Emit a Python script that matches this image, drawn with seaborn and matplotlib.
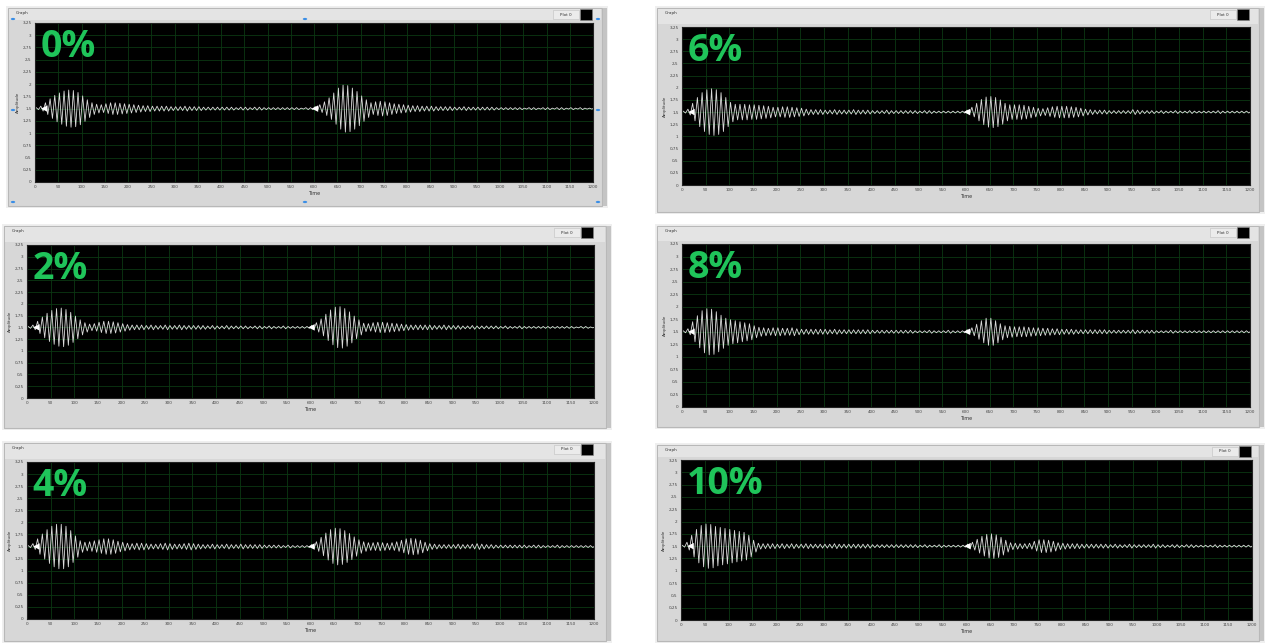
import numpy as np
import pandas as pd
import matplotlib
matplotlib.use('Agg')
import matplotlib.pyplot as plt
import seaborn as sns
from matplotlib.patches import Rectangle, Circle

sns.set_style('white')
plt.rcParams['font.family'] = ['DejaVu Sans']

# Canvas size in pixels
W, H = 1266, 644

# ---- Data ----
labels = ['0%', '2%', '4%', '6%', '8%', '10%']
baseline = 1.5
cycle_len = 10          # time units per oscillation
pulse_times = [20, 602]  # bright excitation / echo start blobs

y_ticks = [0, 0.25, 0.5, 0.75, 1, 1.25, 1.5, 1.75, 2, 2.25, 2.5, 2.75, 3, 3.25]
y_tick_labels = ['0', '0,25', '0,5', '0,75', '1', '1,25', '1,5', '1,75',
                 '2', '2,25', '2,5', '2,75', '3', '3,25']
x_ticks = list(range(0, 1201, 50))

# peak amplitude (from baseline) of each 10-unit cycle, 0..1200
amp_0 = [0.02, 0.05, 0.12, 0.20, 0.27, 0.32, 0.36, 0.38, 0.37, 0.33,
         0.26, 0.18, 0.12, 0.09, 0.08, 0.10, 0.12, 0.12, 0.11, 0.10,
         0.09, 0.08, 0.07, 0.06, 0.06, 0.05, 0.05, 0.05, 0.05, 0.04,
         0.04, 0.04, 0.05, 0.04, 0.04, 0.04, 0.03, 0.03, 0.03, 0.03,
         0.03, 0.03, 0.03, 0.02, 0.03, 0.03, 0.02, 0.03, 0.03, 0.02,
         0.02, 0.02, 0.02, 0.02, 0.02, 0.02, 0.02, 0.01, 0.02, 0.02,
         0.04, 0.08, 0.14, 0.22, 0.32, 0.42, 0.48, 0.47, 0.42, 0.35,
         0.26, 0.18, 0.12, 0.14, 0.15, 0.14, 0.12, 0.10, 0.09, 0.08,
         0.07, 0.06, 0.06, 0.05, 0.05, 0.05, 0.04, 0.04, 0.04, 0.04,
         0.03, 0.03, 0.04, 0.03, 0.03, 0.03, 0.03, 0.03, 0.03, 0.02,
         0.02, 0.02, 0.02, 0.02, 0.02, 0.01, 0.02, 0.02, 0.01, 0.02,
         0.02, 0.01, 0.02, 0.02, 0.01, 0.02, 0.01, 0.02, 0.01, 0.01]

amp_2 = [0.02, 0.05, 0.13, 0.22, 0.30, 0.36, 0.40, 0.41, 0.38, 0.32,
         0.24, 0.16, 0.10, 0.07, 0.08, 0.11, 0.13, 0.13, 0.12, 0.10,
         0.08, 0.06, 0.05, 0.05, 0.05, 0.04, 0.05, 0.04, 0.04, 0.05,
         0.04, 0.04, 0.05, 0.04, 0.04, 0.04, 0.04, 0.04, 0.03, 0.04,
         0.03, 0.03, 0.04, 0.03, 0.03, 0.03, 0.03, 0.02, 0.03, 0.03,
         0.02, 0.03, 0.02, 0.02, 0.03, 0.02, 0.02, 0.02, 0.02, 0.02,
         0.04, 0.10, 0.18, 0.28, 0.37, 0.43, 0.44, 0.40, 0.33, 0.24,
         0.16, 0.09, 0.08, 0.10, 0.11, 0.11, 0.10, 0.09, 0.08, 0.07,
         0.06, 0.05, 0.05, 0.05, 0.05, 0.05, 0.04, 0.04, 0.05, 0.04,
         0.04, 0.04, 0.03, 0.03, 0.04, 0.03, 0.03, 0.03, 0.03, 0.03,
         0.02, 0.03, 0.02, 0.02, 0.03, 0.02, 0.02, 0.02, 0.02, 0.02,
         0.02, 0.02, 0.02, 0.02, 0.02, 0.02, 0.01, 0.02, 0.02, 0.01]

amp_4 = [0.02, 0.06, 0.16, 0.26, 0.35, 0.42, 0.46, 0.46, 0.42, 0.33,
         0.22, 0.12, 0.09, 0.10, 0.12, 0.14, 0.16, 0.16, 0.14, 0.11,
         0.09, 0.07, 0.06, 0.07, 0.07, 0.06, 0.05, 0.05, 0.06, 0.07,
         0.06, 0.05, 0.05, 0.06, 0.07, 0.06, 0.05, 0.04, 0.04, 0.05,
         0.04, 0.04, 0.05, 0.04, 0.04, 0.05, 0.04, 0.04, 0.04, 0.04,
         0.03, 0.03, 0.03, 0.03, 0.02, 0.03, 0.02, 0.02, 0.02, 0.02,
         0.04, 0.10, 0.19, 0.28, 0.35, 0.38, 0.37, 0.33, 0.27, 0.20,
         0.14, 0.10, 0.08, 0.08, 0.09, 0.08, 0.07, 0.08, 0.10, 0.13,
         0.16, 0.17, 0.16, 0.13, 0.09, 0.06, 0.05, 0.04, 0.04, 0.04,
         0.04, 0.05, 0.04, 0.04, 0.05, 0.06, 0.05, 0.04, 0.04, 0.03,
         0.03, 0.03, 0.03, 0.03, 0.03, 0.03, 0.02, 0.03, 0.03, 0.02,
         0.02, 0.02, 0.03, 0.02, 0.02, 0.02, 0.02, 0.02, 0.02, 0.02]

amp_6 = [0.02, 0.06, 0.18, 0.30, 0.40, 0.46, 0.48, 0.46, 0.40, 0.30,
         0.20, 0.16, 0.16, 0.16, 0.15, 0.15, 0.14, 0.13, 0.12, 0.10,
         0.10, 0.11, 0.11, 0.10, 0.09, 0.08, 0.06, 0.05, 0.05, 0.05,
         0.04, 0.04, 0.05, 0.04, 0.04, 0.04, 0.05, 0.04, 0.04, 0.04,
         0.03, 0.03, 0.03, 0.04, 0.03, 0.03, 0.03, 0.03, 0.03, 0.03,
         0.02, 0.03, 0.03, 0.02, 0.02, 0.02, 0.02, 0.02, 0.02, 0.02,
         0.04, 0.10, 0.18, 0.26, 0.31, 0.32, 0.30, 0.25, 0.18, 0.15,
         0.15, 0.15, 0.14, 0.12, 0.10, 0.08, 0.07, 0.09, 0.11, 0.12,
         0.12, 0.12, 0.11, 0.10, 0.08, 0.06, 0.05, 0.04, 0.04, 0.04,
         0.03, 0.03, 0.03, 0.03, 0.03, 0.05, 0.04, 0.03, 0.03, 0.03,
         0.02, 0.03, 0.02, 0.02, 0.03, 0.02, 0.02, 0.03, 0.02, 0.02,
         0.02, 0.02, 0.02, 0.03, 0.02, 0.02, 0.02, 0.02, 0.02, 0.02]

amp_8 = [0.02, 0.06, 0.20, 0.32, 0.42, 0.46, 0.45, 0.40, 0.33, 0.27,
         0.24, 0.22, 0.20, 0.18, 0.16, 0.12, 0.09, 0.08, 0.07, 0.08,
         0.08, 0.07, 0.07, 0.08, 0.06, 0.05, 0.05, 0.05, 0.05, 0.05,
         0.05, 0.04, 0.05, 0.04, 0.04, 0.04, 0.04, 0.04, 0.04, 0.04,
         0.03, 0.03, 0.03, 0.03, 0.03, 0.03, 0.03, 0.03, 0.03, 0.02,
         0.02, 0.02, 0.03, 0.02, 0.02, 0.02, 0.03, 0.02, 0.02, 0.02,
         0.04, 0.08, 0.15, 0.22, 0.27, 0.27, 0.22, 0.16, 0.12, 0.11,
         0.10, 0.10, 0.10, 0.09, 0.08, 0.08, 0.07, 0.07, 0.06, 0.06,
         0.05, 0.05, 0.05, 0.04, 0.04, 0.04, 0.04, 0.04, 0.04, 0.04,
         0.03, 0.03, 0.03, 0.03, 0.03, 0.04, 0.03, 0.03, 0.03, 0.03,
         0.02, 0.02, 0.02, 0.03, 0.02, 0.02, 0.02, 0.02, 0.02, 0.02,
         0.02, 0.02, 0.02, 0.02, 0.02, 0.02, 0.02, 0.02, 0.02, 0.02]

amp_10 = [0.02, 0.08, 0.22, 0.34, 0.42, 0.45, 0.44, 0.40, 0.38, 0.36,
          0.34, 0.32, 0.30, 0.28, 0.22, 0.12, 0.06, 0.05, 0.05, 0.05,
          0.04, 0.05, 0.04, 0.05, 0.04, 0.04, 0.05, 0.04, 0.04, 0.04,
          0.04, 0.04, 0.05, 0.04, 0.04, 0.04, 0.04, 0.04, 0.04, 0.04,
          0.03, 0.03, 0.03, 0.03, 0.03, 0.03, 0.03, 0.03, 0.03, 0.03,
          0.02, 0.03, 0.02, 0.02, 0.03, 0.02, 0.02, 0.02, 0.02, 0.02,
          0.04, 0.08, 0.14, 0.20, 0.24, 0.25, 0.23, 0.18, 0.12, 0.07,
          0.06, 0.05, 0.05, 0.06, 0.10, 0.13, 0.13, 0.12, 0.10, 0.07,
          0.06, 0.05, 0.05, 0.05, 0.04, 0.04, 0.04, 0.04, 0.04, 0.04,
          0.03, 0.04, 0.03, 0.03, 0.04, 0.03, 0.03, 0.03, 0.03, 0.04,
          0.03, 0.03, 0.02, 0.03, 0.03, 0.02, 0.03, 0.03, 0.02, 0.02,
          0.02, 0.02, 0.03, 0.02, 0.02, 0.02, 0.02, 0.02, 0.02, 0.02]

amplitudes = [amp_0, amp_2, amp_4, amp_6, amp_8, amp_10]

# ---- Layout (pixels, top-left origin) ----
plot_boxes = [(35, 23, 593, 182), (27, 245, 594, 398), (27, 462, 594, 619),
              (682, 27, 1250, 185), (682, 244, 1250, 407), (681, 460, 1252, 620)]
frame_boxes = [(8, 8, 602, 206), (4, 226, 606, 428), (4, 443, 606, 641),
               (657, 8, 1259, 212), (657, 226, 1259, 427), (657, 445, 1259, 641)]

grid_color = '#0b3812'
label_green = '#1fc45a'


def fx(x):
    return x / W


def fy(y):
    return 1 - y / H


def trace_frame(amps):
    t0 = np.arange(len(amps)) * cycle_len
    a = np.asarray(amps)
    t = np.column_stack([t0 + cycle_len * 0.25, t0 + cycle_len * 0.75]).ravel()
    y = np.column_stack([baseline + a, baseline - a]).ravel()
    t = np.concatenate([[0], t, [1200]])
    y = np.concatenate([[baseline], y, [baseline]])
    return pd.DataFrame({'Time': t, 'Amplitude': y})


def add_rect(l, t, r, b, **kw):
    fig.add_artist(Rectangle((fx(l), fy(b)), (r - l) / W, (b - t) / H,
                             transform=fig.transFigure, **kw))


fig = plt.figure(figsize=(W / 100, H / 100), dpi=100)
fig.patch.set_facecolor('white')

for i, (label, amps) in enumerate(zip(labels, amplitudes)):
    fl, ft, fr, fb = frame_boxes[i]
    pl, pt, pr, pb = plot_boxes[i]

    # LabVIEW-like control frame
    add_rect(fl - 2, ft - 2, fr + 6, fb + 2, facecolor='#efefef', edgecolor='none', zorder=-6)
    add_rect(fl, ft, fr, fb, facecolor='#d7d7d7', edgecolor='#b8b8b8', lw=0.8, zorder=-5)
    add_rect(fl + 1, ft + 1, fr - 1, pt - 3, facecolor='#e4e4e4', edgecolor='none', zorder=-4)
    add_rect(fr + 1, ft, fr + 5, fb, facecolor='#c4c4c4', edgecolor='none', zorder=-4)
    fig.text(fx(fl + 8), fy(ft + 5), 'Graph', fontsize=3, color='#333333', va='center')
    # legend "Plot 0"
    add_rect(pr - 40, ft + 2, pr - 14, ft + 11, facecolor='#ebebeb', edgecolor='#c0c0c0', lw=0.4, zorder=-3)
    fig.text(fx(pr - 27), fy(ft + 6.5), 'Plot 0', fontsize=3, color='#333333', ha='center', va='center')
    add_rect(pr - 13, ft + 1, pr - 1, ft + 12, facecolor='black', edgecolor='#888888', lw=0.4, zorder=-3)

    ax = fig.add_axes([fx(pl), fy(pb), (pr - pl) / W, (pb - pt) / H])
    ax.set_facecolor('black')
    df = trace_frame(amps)
    sns.lineplot(data=df, x='Time', y='Amplitude', ax=ax, color='#dcdcdc', lw=0.6,
                 estimator=None, sort=False, legend=False)
    sns.scatterplot(x=pulse_times, y=[baseline] * len(pulse_times), ax=ax, marker='<',
                    color='white', s=22, edgecolor='none', zorder=5, legend=False)

    ax.set_xlim(0, 1200)
    ax.set_ylim(0, 3.25)
    ax.set_xticks(x_ticks)
    ax.set_xticklabels([str(v) for v in x_ticks])
    ax.set_yticks(y_ticks)
    ax.set_yticklabels(y_tick_labels)
    ax.grid(True, color=grid_color, lw=0.6)
    ax.set_axisbelow(True)
    ax.tick_params(axis='both', labelsize=3, colors='#444444', length=1.5, width=0.4, pad=1)
    ax.set_xlabel('Time', fontsize=3.5, color='#333333', labelpad=1)
    ax.set_ylabel('Amplitude', fontsize=3, color='#333333', labelpad=2)
    for s in ax.spines.values():
        s.set_color('#222222')
        s.set_linewidth(0.8)

    ax.text(0.01, 0.97, label, transform=ax.transAxes, fontsize=27, fontweight='bold',
            family=['Open Sans', 'DejaVu Sans'], color=label_green, ha='left', va='top')

# selection handles on the first graph
for hx, hy in [(13, 19), (305, 19), (598, 19), (13, 110), (598, 110),
               (13, 202), (305, 202), (598, 202)]:
    fig.add_artist(Circle((fx(hx), fy(hy)), 2.2 / W, transform=fig.transFigure,
                          facecolor='#3a8ee6', edgecolor='none', zorder=10))

fig.savefig('out.png', dpi=100, facecolor='white')
